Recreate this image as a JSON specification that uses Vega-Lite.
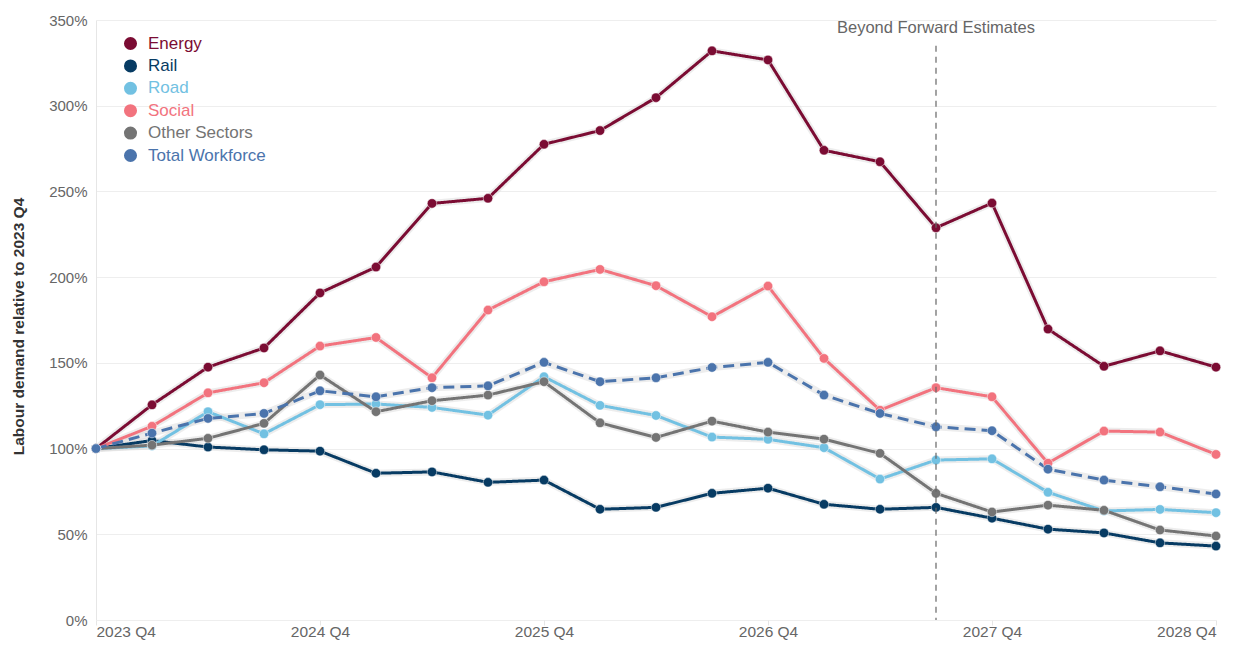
{
  "$schema": "https://vega.github.io/schema/vega-lite/v6.json",
  "autosize": {"type": "none"},
  "padding": {"left": 96, "top": 20, "right": 28, "bottom": 28},
  "width": 1120,
  "height": 600,
  "background": "white",
  "config": {
    "font": "Liberation Sans",
    "view": {"stroke": null},
    "legend": {
      "title": null,
      "orient": "none",
      "legendX": 26,
      "legendY": 15,
      "symbolType": "circle",
      "symbolSize": 170,
      "symbolStrokeWidth": 0,
      "labelFontSize": 17,
      "labelOffset": 9,
      "rowPadding": 4.4
    }
  },
  "datasets": {
    "series": [
      {"q":"2023 Q4","s":"Energy","v":100},{"q":"2024 Q1","s":"Energy","v":125.5},{"q":"2024 Q2","s":"Energy","v":147.5},{"q":"2024 Q3","s":"Energy","v":158.7},{"q":"2024 Q4","s":"Energy","v":190.8},{"q":"2025 Q1","s":"Energy","v":205.9},{"q":"2025 Q2","s":"Energy","v":243},{"q":"2025 Q3","s":"Energy","v":246},{"q":"2025 Q4","s":"Energy","v":277.5},{"q":"2026 Q1","s":"Energy","v":285.5},{"q":"2026 Q2","s":"Energy","v":304.7},{"q":"2026 Q3","s":"Energy","v":332},{"q":"2026 Q4","s":"Energy","v":326.7},{"q":"2027 Q1","s":"Energy","v":274},{"q":"2027 Q2","s":"Energy","v":267.3},{"q":"2027 Q3","s":"Energy","v":228.8},{"q":"2027 Q4","s":"Energy","v":243.2},{"q":"2028 Q1","s":"Energy","v":169.7},{"q":"2028 Q2","s":"Energy","v":148},{"q":"2028 Q3","s":"Energy","v":157},{"q":"2028 Q4","s":"Energy","v":147.5},
      {"q":"2023 Q4","s":"Rail","v":100},{"q":"2024 Q1","s":"Rail","v":104.7},{"q":"2024 Q2","s":"Rail","v":100.9},{"q":"2024 Q3","s":"Rail","v":99.3},{"q":"2024 Q4","s":"Rail","v":98.5},{"q":"2025 Q1","s":"Rail","v":85.6},{"q":"2025 Q2","s":"Rail","v":86.4},{"q":"2025 Q3","s":"Rail","v":80.3},{"q":"2025 Q4","s":"Rail","v":81.6},{"q":"2026 Q1","s":"Rail","v":64.6},{"q":"2026 Q2","s":"Rail","v":65.7},{"q":"2026 Q3","s":"Rail","v":73.9},{"q":"2026 Q4","s":"Rail","v":76.9},{"q":"2027 Q1","s":"Rail","v":67.5},{"q":"2027 Q2","s":"Rail","v":64.6},{"q":"2027 Q3","s":"Rail","v":65.7},{"q":"2027 Q4","s":"Rail","v":59.4},{"q":"2028 Q1","s":"Rail","v":53},{"q":"2028 Q2","s":"Rail","v":50.8},{"q":"2028 Q3","s":"Rail","v":45},{"q":"2028 Q4","s":"Rail","v":43.1},
      {"q":"2023 Q4","s":"Road","v":100},{"q":"2024 Q1","s":"Road","v":101.5},{"q":"2024 Q2","s":"Road","v":121.5},{"q":"2024 Q3","s":"Road","v":108.6},{"q":"2024 Q4","s":"Road","v":125.6},{"q":"2025 Q1","s":"Road","v":126},{"q":"2025 Q2","s":"Road","v":124},{"q":"2025 Q3","s":"Road","v":119.5},{"q":"2025 Q4","s":"Road","v":141.9},{"q":"2026 Q1","s":"Road","v":125.2},{"q":"2026 Q2","s":"Road","v":119.3},{"q":"2026 Q3","s":"Road","v":106.7},{"q":"2026 Q4","s":"Road","v":105.4},{"q":"2027 Q1","s":"Road","v":100.5},{"q":"2027 Q2","s":"Road","v":82.2},{"q":"2027 Q3","s":"Road","v":93.3},{"q":"2027 Q4","s":"Road","v":94},{"q":"2028 Q1","s":"Road","v":74.5},{"q":"2028 Q2","s":"Road","v":63.6},{"q":"2028 Q3","s":"Road","v":64.5},{"q":"2028 Q4","s":"Road","v":62.6},
      {"q":"2023 Q4","s":"Social","v":100},{"q":"2024 Q1","s":"Social","v":113},{"q":"2024 Q2","s":"Social","v":132.5},{"q":"2024 Q3","s":"Social","v":138.4},{"q":"2024 Q4","s":"Social","v":159.8},{"q":"2025 Q1","s":"Social","v":164.8},{"q":"2025 Q2","s":"Social","v":141.3},{"q":"2025 Q3","s":"Social","v":180.8},{"q":"2025 Q4","s":"Social","v":197.3},{"q":"2026 Q1","s":"Social","v":204.5},{"q":"2026 Q2","s":"Social","v":195},{"q":"2026 Q3","s":"Social","v":176.9},{"q":"2026 Q4","s":"Social","v":194.8},{"q":"2027 Q1","s":"Social","v":152.6},{"q":"2027 Q2","s":"Social","v":122.4},{"q":"2027 Q3","s":"Social","v":135.5},{"q":"2027 Q4","s":"Social","v":130.2},{"q":"2028 Q1","s":"Social","v":91.5},{"q":"2028 Q2","s":"Social","v":110.2},{"q":"2028 Q3","s":"Social","v":109.6},{"q":"2028 Q4","s":"Social","v":96.6},
      {"q":"2023 Q4","s":"Other Sectors","v":100},{"q":"2024 Q1","s":"Other Sectors","v":102},{"q":"2024 Q2","s":"Other Sectors","v":106},{"q":"2024 Q3","s":"Other Sectors","v":114.7},{"q":"2024 Q4","s":"Other Sectors","v":142.9},{"q":"2025 Q1","s":"Other Sectors","v":121.5},{"q":"2025 Q2","s":"Other Sectors","v":127.9},{"q":"2025 Q3","s":"Other Sectors","v":131.2},{"q":"2025 Q4","s":"Other Sectors","v":139},{"q":"2026 Q1","s":"Other Sectors","v":115},{"q":"2026 Q2","s":"Other Sectors","v":106.5},{"q":"2026 Q3","s":"Other Sectors","v":116},{"q":"2026 Q4","s":"Other Sectors","v":109.6},{"q":"2027 Q1","s":"Other Sectors","v":105.5},{"q":"2027 Q2","s":"Other Sectors","v":97.2},{"q":"2027 Q3","s":"Other Sectors","v":73.9},{"q":"2027 Q4","s":"Other Sectors","v":63},{"q":"2028 Q1","s":"Other Sectors","v":67},{"q":"2028 Q2","s":"Other Sectors","v":64},{"q":"2028 Q3","s":"Other Sectors","v":52.5},{"q":"2028 Q4","s":"Other Sectors","v":49},
      {"q":"2023 Q4","s":"Total Workforce","v":100},{"q":"2024 Q1","s":"Total Workforce","v":109},{"q":"2024 Q2","s":"Total Workforce","v":117.6},{"q":"2024 Q3","s":"Total Workforce","v":120.5},{"q":"2024 Q4","s":"Total Workforce","v":133.7},{"q":"2025 Q1","s":"Total Workforce","v":130.2},{"q":"2025 Q2","s":"Total Workforce","v":135.5},{"q":"2025 Q3","s":"Total Workforce","v":136.6},{"q":"2025 Q4","s":"Total Workforce","v":150.3},{"q":"2026 Q1","s":"Total Workforce","v":139},{"q":"2026 Q2","s":"Total Workforce","v":141.3},{"q":"2026 Q3","s":"Total Workforce","v":147.3},{"q":"2026 Q4","s":"Total Workforce","v":150.3},{"q":"2027 Q1","s":"Total Workforce","v":131.2},{"q":"2027 Q2","s":"Total Workforce","v":120.5},{"q":"2027 Q3","s":"Total Workforce","v":112.7},{"q":"2027 Q4","s":"Total Workforce","v":110.4},{"q":"2028 Q1","s":"Total Workforce","v":88},{"q":"2028 Q2","s":"Total Workforce","v":81.6},{"q":"2028 Q3","s":"Total Workforce","v":77.7},{"q":"2028 Q4","s":"Total Workforce","v":73.5}
    ],
    "marker": [{"q": "2027 Q3", "label": "Beyond Forward Estimates"}]
  },
  "layer": [
    {
      "data": {"name": "series"},
      "mark": {"type": "line", "strokeWidth": 7, "color": "#d8d8d8", "opacity": 0.45},
      "encoding": {
        "x": {"field": "q", "type": "ordinal"},
        "y": {"field": "v", "type": "quantitative"},
        "detail": {"field": "s"}
      }
    },
    {
      "data": {"name": "series"},
      "mark": {"type": "line", "strokeWidth": 3},
      "encoding": {
        "x": {
          "field": "q", "type": "ordinal",
          "scale": {"type": "point", "padding": 0},
          "axis": {
            "title": null,
            "values": ["2023 Q4","2024 Q4","2025 Q4","2026 Q4","2027 Q4","2028 Q4"],
            "labelAngle": 0,
            "labelFontSize": 15.5,
            "labelColor": "#666666",
            "labelFlush": false,
            "labelAlign": {
              "condition": [
                {"test": "datum.value == '2023 Q4'", "value": "left"},
                {"test": "datum.value == '2028 Q4'", "value": "right"}
              ],
              "value": "center"
            },
            "labelPadding": 6,
            "domain": false,
            "ticks": true,
            "tickColor": "#e6e6e6",
            "tickSize": 5,
            "grid": false
          }
        },
        "y": {
          "field": "v", "type": "quantitative",
          "scale": {"domain": [0, 350], "nice": false},
          "axis": {
            "title": "Labour demand relative to 2023 Q4",
            "titleFontSize": 15.5,
            "titleFontWeight": "bold",
            "titleColor": "#333333",
            "titlePadding": 22,
            "titleY": 306,
            "values": [0, 50, 100, 150, 200, 250, 300, 350],
            "labelExpr": "datum.value + '%'",
            "labelFontSize": 15,
            "labelColor": "#666666",
            "labelPadding": 9,
            "ticks": false,
            "domain": true,
            "domainColor": "#e6e6e6",
            "grid": true,
            "gridColor": "#eeeeee"
          }
        },
        "color": {
          "field": "s", "type": "nominal",
          "scale": {
            "domain": ["Energy", "Rail", "Road", "Social", "Other Sectors", "Total Workforce"],
            "range": ["#7b0c33", "#073b63", "#72c1e2", "#f2737e", "#747474", "#4b74ac"]
          },
          "legend": {
            "labelColor": {"expr": "scale('color', datum.value)"}
          }
        },
        "strokeDash": {
          "field": "s", "type": "nominal",
          "scale": {
            "domain": ["Energy", "Rail", "Road", "Social", "Other Sectors", "Total Workforce"],
            "range": [[1, 0], [1, 0], [1, 0], [1, 0], [1, 0], [11, 6]]
          },
          "legend": null
        }
      }
    },
    {
      "data": {"name": "series"},
      "mark": {"type": "point", "filled": true, "size": 90, "opacity": 1, "stroke": "#ffffff", "strokeWidth": 0.8, "strokeOpacity": 0.6},
      "encoding": {
        "x": {"field": "q", "type": "ordinal"},
        "y": {"field": "v", "type": "quantitative"},
        "color": {
          "field": "s", "type": "nominal",
          "legend": {
            "labelColor": {"expr": "scale('color', datum.value)"}
          }
        }
      }
    },
    {
      "data": {"name": "marker"},
      "mark": {"type": "rule", "strokeDash": [6, 5], "color": "#666666", "strokeWidth": 1.2},
      "encoding": {
        "x": {"field": "q", "type": "ordinal"},
        "y": {"datum": 335},
        "y2": {"datum": 0}
      }
    },
    {
      "data": {"name": "marker"},
      "mark": {"type": "text", "fontSize": 16.5, "color": "#666666", "align": "center", "baseline": "middle"},
      "encoding": {
        "x": {"field": "q", "type": "ordinal"},
        "y": {"datum": 345.5},
        "text": {"field": "label"}
      }
    }
  ]
}
